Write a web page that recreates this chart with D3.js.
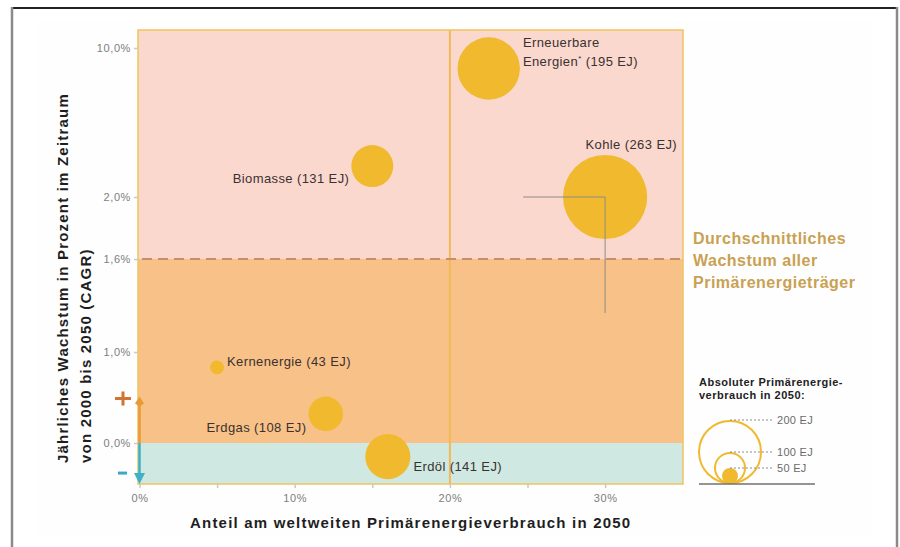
<!DOCTYPE html>
<html>
<head>
<meta charset="utf-8">
<script src="https://cdn.jsdelivr.net/npm/d3@7"></script>
<style>
  body { margin: 0; background: #fff; }
  svg { display: block; }
  text { font-family: "Liberation Sans", Arial, Helvetica, sans-serif; }
</style>
</head>
<body>
<svg id="chart" width="900" height="547"></svg>
<script>
// Primary energy carriers: share of world consumption in 2050 vs. annual growth 2000–2050
const carriers = ["Erneuerbare Energien", "Kohle", "Biomasse", "Kernenergie", "Erdgas", "Erdöl"];
const share2050 = [22.5, 30.0, 15.0, 5.0, 12.0, 16.0];      // % of world primary energy use in 2050
const growthCAGR = [8.9, 2.0, 3.66, 0.83, 0.32, -0.15];     // % per year, 2000–2050
const consumptionEJ = [195, 263, 131, 43, 108, 141];        // absolute use in 2050, EJ

const yTicks = [0, 1, 1.6, 2, 10];
const yTickLabels = ["0,0%", "1,0%", "1,6%", "2,0%", "10,0%"];
const xTicks = [0, 5, 10, 15, 20, 25, 30];
const xTickLabels = ["0%", "", "10%", "", "20%", "", "30%"];
const averageGrowth = 1.6;
const shareDivider = 20;
const legendSizesEJ = [200, 100, 50];

const svg = d3.select("#chart");

// ---- frame ----
svg.append("rect").attr("x", 35).attr("y", 22).attr("width", 838).attr("height", 515).attr("fill", "#fefefe");
svg.append("line").attr("x1", 12).attr("x2", 898).attr("y1", 8).attr("y2", 8).attr("stroke", "#222").attr("stroke-width", 2);
svg.append("line").attr("x1", 12).attr("x2", 12).attr("y1", 7).attr("y2", 547).attr("stroke", "#8a8a8a").attr("stroke-width", 2.5);
svg.append("line").attr("x1", 897).attr("x2", 897).attr("y1", 7).attr("y2", 547).attr("stroke", "#8a8a8a").attr("stroke-width", 2.5);

// ---- plot area ----
const plot = { left: 138, right: 683, top: 30, bottom: 484 };

const x = d3.scaleLinear().domain([0, 35]).range([139.5, 682.7]);
// hand-spaced growth axis: each segment between the marked rates has its own stretch
const y = d3.scaleLinear()
  .domain([-0.45, 0, 1, 1.6, 2, 10, 11])
  .range([484, 443, 352, 259, 197, 48, 29.4]);
const r = d3.scaleLinear().domain([0, 200]).range([0, 32]);

const W = plot.right - plot.left;

// background bands
svg.append("rect").attr("x", plot.left).attr("width", W)
  .attr("y", plot.top).attr("height", y(averageGrowth) - plot.top).attr("fill", "#fad8ce");
svg.append("rect").attr("x", plot.left).attr("width", W)
  .attr("y", y(averageGrowth)).attr("height", y(0) - y(averageGrowth)).attr("fill", "#f8c187");
svg.append("rect").attr("x", plot.left).attr("width", W)
  .attr("y", y(0)).attr("height", plot.bottom - y(0)).attr("fill", "#cfe8e1");

// 20 % divider
svg.append("line")
  .attr("x1", x(shareDivider)).attr("x2", x(shareDivider))
  .attr("y1", plot.top).attr("y2", plot.bottom)
  .attr("stroke", "#f2b957").attr("stroke-width", 2);

// average growth line
svg.append("line")
  .attr("x1", plot.left).attr("x2", plot.right)
  .attr("y1", y(averageGrowth)).attr("y2", y(averageGrowth))
  .attr("stroke", "#c68f68").attr("stroke-width", 2)
  .attr("stroke-dasharray", "10,6").attr("stroke-dashoffset", -4);

// plot border
svg.append("rect")
  .attr("x", plot.left).attr("y", plot.top).attr("width", W).attr("height", plot.bottom - plot.top)
  .attr("fill", "none").attr("stroke", "#f1c35e").attr("stroke-width", 1.5);

// ---- axes ----
const yAxis = d3.axisLeft(y).tickValues(yTicks)
  .tickFormat((d, i) => yTickLabels[i]).tickSize(4).tickPadding(3);
const gy = svg.append("g").attr("transform", `translate(${plot.left},0)`).call(yAxis);

const xAxis = d3.axisBottom(x).tickValues(xTicks)
  .tickFormat((d, i) => xTickLabels[i]).tickSize(4).tickPadding(6);
const gx = svg.append("g").attr("transform", `translate(0,${plot.bottom})`).call(xAxis);

[gx, gy].forEach(g => {
  g.select(".domain").remove();
  g.selectAll(".tick line").attr("stroke", "#c9c9c9").attr("stroke-width", 1.5);
  g.selectAll(".tick text")
    .attr("fill", "#7d7d7d").style("font-size", "11px").style("letter-spacing", "0.6px")
    .style("font-family", "'Liberation Sans', Arial, sans-serif");
});

// axis titles
svg.append("text")
  .attr("x", 190).attr("y", 528)
  .attr("fill", "#1e1e1e").style("font-size", "15px").style("font-weight", "bold").style("letter-spacing", "1.2px")
  .text("Anteil am weltweiten Primärenergieverbrauch in 2050");

const yTitle = svg.append("text")
  .attr("transform", "translate(68,463) rotate(-90)")
  .attr("fill", "#1e1e1e").style("font-size", "15px").style("font-weight", "bold").style("letter-spacing", "1.2px");
yTitle.append("tspan").attr("x", 0).attr("y", 0).text("Jährliches Wachstum in Prozent im Zeitraum");
yTitle.append("tspan").attr("x", 0).attr("y", 23).text("von 2000 bis 2050 (CAGR)");

// ---- growth direction marker ----
const ax = x(0);
const tipUp = y(0.5), tipDown = plot.bottom;
svg.append("line").attr("x1", ax).attr("x2", ax).attr("y1", y(0)).attr("y2", tipUp + 5)
  .attr("stroke", "#e99a36").attr("stroke-width", 2.5);
svg.append("path")
  .attr("d", `M${ax},${tipUp - 1} L${ax + 4.5},${tipUp + 6} L${ax},${tipUp + 9} L${ax - 4.5},${tipUp + 6} Z`)
  .attr("fill", "#e99a36");
svg.append("line").attr("x1", ax).attr("x2", ax).attr("y1", y(0)).attr("y2", tipDown - 8)
  .attr("stroke", "#3eb1c6").attr("stroke-width", 2.5);
svg.append("path")
  .attr("d", `M${ax - 5.5},${tipDown - 11} L${ax + 5.5},${tipDown - 11} L${ax},${tipDown} Z`)
  .attr("fill", "#3eb1c6");
// plus sign
const px = 123, py = tipUp + 1;
svg.append("path").attr("d", `M${px - 8},${py} H${px + 8} M${px},${py - 7} V${py + 7}`)
  .attr("stroke", "#cf7434").attr("stroke-width", 3);
// minus sign
const my = y(-0.33);
svg.append("path").attr("d", `M${px - 5},${my} H${px + 4}`)
  .attr("stroke", "#3aa9c4").attr("stroke-width", 3);

// ---- bubbles ----
const data = carriers.map((name, i) => ({
  name, share: share2050[i], growth: growthCAGR[i], ej: consumptionEJ[i]
}));

svg.append("g").selectAll("circle").data(data).join("circle")
  .attr("cx", d => x(d.share)).attr("cy", d => y(d.growth)).attr("r", d => r(d.ej))
  .attr("fill", "#f0b92e");

// guide lines at the coal bubble
const coal = data.find(d => d.name === "Kohle");
svg.append("path")
  .attr("d", `M${x(coal.share) - 82},${y(coal.growth)} H${x(coal.share)} V${y(coal.growth) + 116}`)
  .attr("fill", "none").attr("stroke", "#8f8a86").attr("stroke-width", 1);

// bubble labels
const labelStyle = sel => sel.attr("fill", "#3a3131").style("font-size", "13px").style("letter-spacing", "0.4px");
const labels = svg.append("g");
data.forEach(d => {
  const cx = x(d.share), cy = y(d.growth), rr = r(d.ej);
  const value = `(${d.ej} EJ)`;
  if (d.name === "Erneuerbare Energien") {
    const t = labels.append("text").call(labelStyle);
    t.append("tspan").attr("x", cx + rr + 3).attr("y", cy - 21).text("Erneuerbare");
    t.append("tspan").attr("x", cx + rr + 3).attr("y", cy - 2).text("Energien");
    t.append("tspan").attr("dy", -5).style("font-size", "8px").text("*");
    t.append("tspan").attr("dy", 5).text(" " + value);
    return;
  }
  let tx, ty, anchor;
  switch (d.name) {
    case "Kohle":       tx = cx + 72;      ty = cy - rr - 6; anchor = "end"; break;
    case "Biomasse":    tx = cx - rr - 2;  ty = cy + 17;     anchor = "end"; break;
    case "Kernenergie": tx = cx + rr + 3;  ty = cy - 1;      anchor = "start"; break;
    case "Erdgas":      tx = cx - rr - 2;  ty = cy + 18;     anchor = "end"; break;
    case "Erdöl":       tx = cx + rr + 3;  ty = cy + 14;     anchor = "start"; break;
  }
  labels.append("text").call(labelStyle)
    .attr("x", tx).attr("y", ty).attr("text-anchor", anchor)
    .text(`${d.name} ${value}`);
});

// ---- annotation for the dashed line ----
const note = svg.append("text")
  .attr("fill", "#c9a152").style("font-size", "16px").style("font-weight", "bold").style("letter-spacing", "0.5px");
["Durchschnittliches", "Wachstum aller", "Primärenergieträger"].forEach((line, i) => {
  note.append("tspan").attr("x", 693).attr("y", 244 + i * 22).text(line);
});

// ---- size legend ----
const lg = { cx: 730, base: 484 };
const legendTitle = svg.append("text")
  .attr("fill", "#222").style("font-size", "11px").style("font-weight", "bold").style("letter-spacing", "0.5px");
legendTitle.append("tspan").attr("x", 699).attr("y", 386).text("Absoluter Primärenergie-");
legendTitle.append("tspan").attr("x", 699).attr("y", 399).text("verbrauch in 2050:");

legendSizesEJ.forEach((v, i) => {
  const rr = r(v);
  const filled = i === legendSizesEJ.length - 1;
  svg.append("circle")
    .attr("cx", lg.cx).attr("cy", lg.base - rr).attr("r", filled ? rr : rr - 1)
    .attr("fill", filled ? "#f0b92e" : "none")
    .attr("stroke", "#f0b92e").attr("stroke-width", filled ? 0 : 2);
  const top = lg.base - 2 * rr;
  svg.append("line")
    .attr("x1", lg.cx).attr("x2", 774).attr("y1", top).attr("y2", top)
    .attr("stroke", "#8c8c8c").attr("stroke-width", 1.2).attr("stroke-dasharray", "2,2");
  svg.append("text")
    .attr("x", 777).attr("y", top + 4)
    .attr("fill", "#6b6b6b").style("font-size", "11px").style("letter-spacing", "0.3px")
    .text(`${v} EJ`);
});
svg.append("line")
  .attr("x1", 699).attr("x2", 815).attr("y1", lg.base).attr("y2", lg.base)
  .attr("stroke", "#707070").attr("stroke-width", 1.5);
</script>
</body>
</html>
